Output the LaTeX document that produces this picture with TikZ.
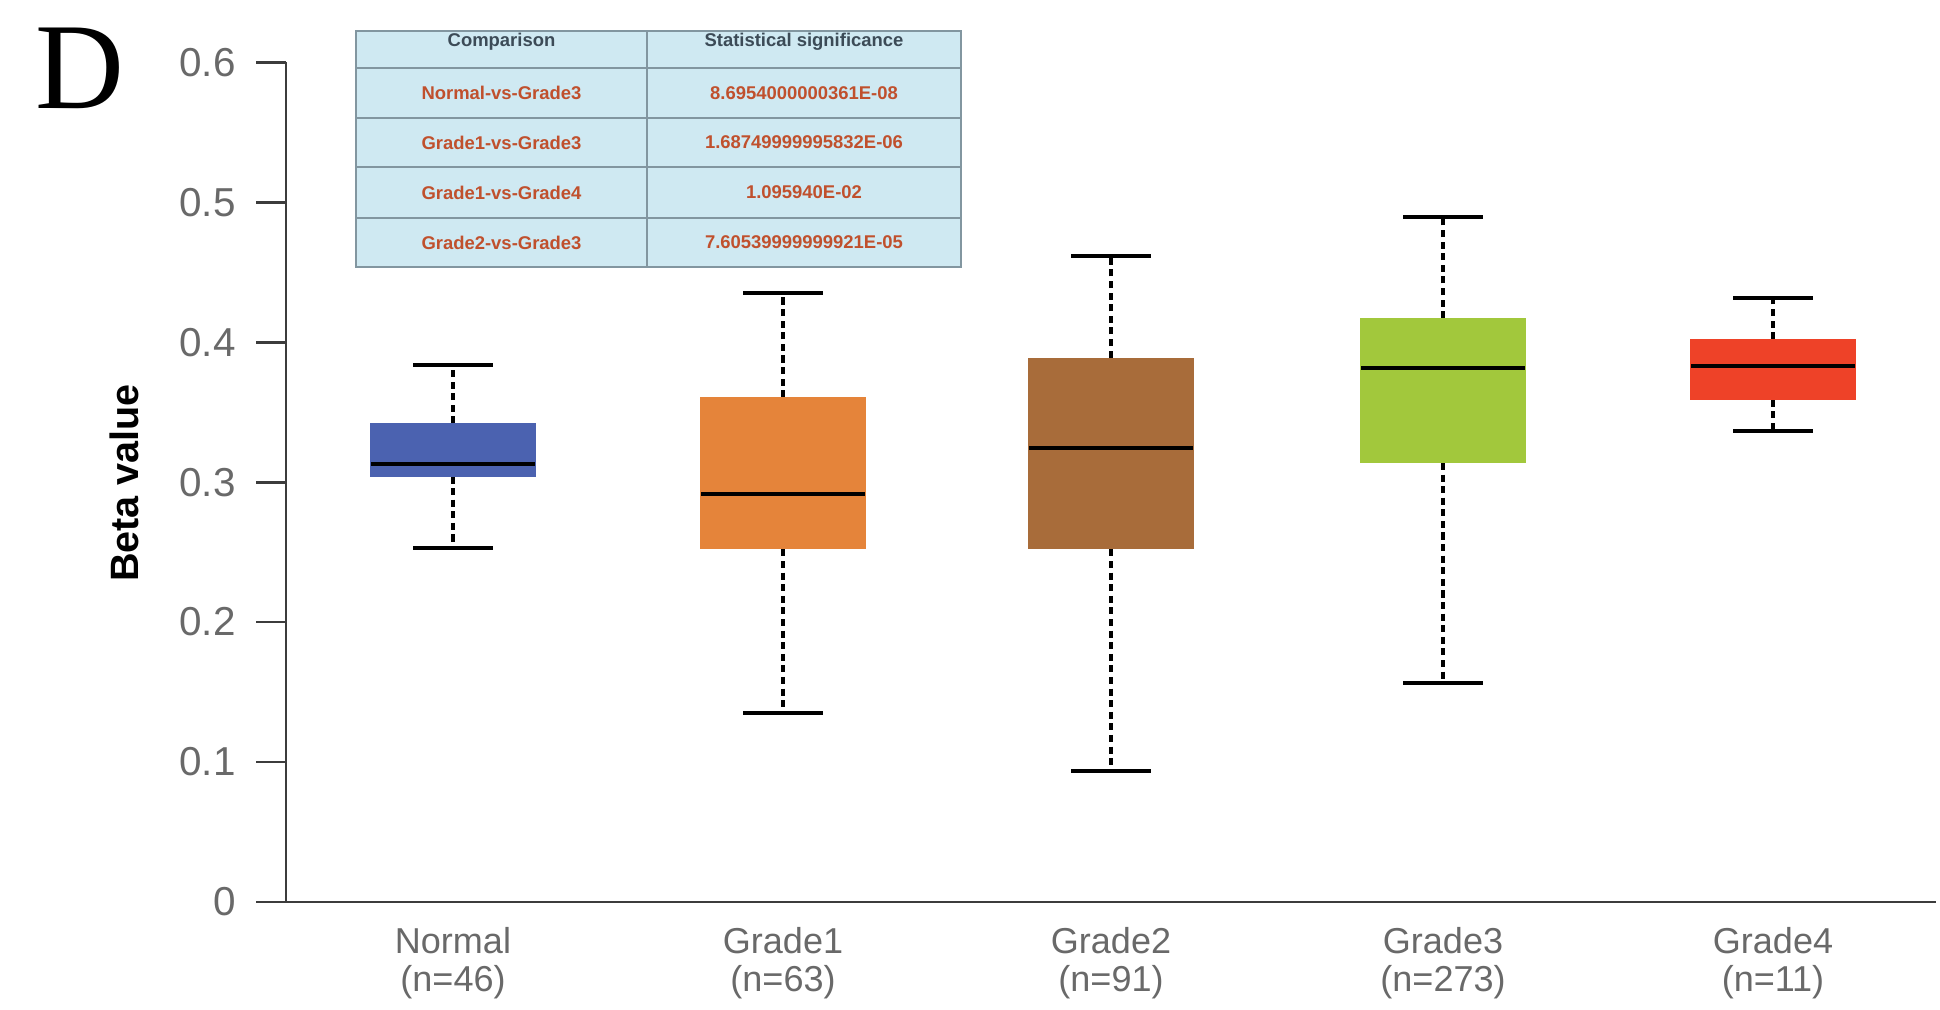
\documentclass[tikz,border=0pt]{standalone}
\usepackage{fontspec}
\setmainfont{Liberation Sans}
\newfontfamily\panelfont{Liberation Serif}

\definecolor{cNormal}{RGB}{75,98,176}
\definecolor{cGradeA}{RGB}{229,132,58}
\definecolor{cGradeB}{RGB}{168,108,58}
\definecolor{cGradeC}{RGB}{162,200,60}
\definecolor{cGradeD}{RGB}{238,66,40}
\definecolor{axisgrey}{RGB}{60,60,60}
\definecolor{labelgrey}{RGB}{105,105,105}
\definecolor{tablefill}{RGB}{207,233,242}
\definecolor{tableline}{RGB}{130,150,160}
\definecolor{tablehead}{RGB}{60,75,87}
\definecolor{tablebody}{RGB}{192,80,45}

\tikzset{
  axisline/.style={draw=axisgrey, line width=1.6pt},
  whisk/.style={draw=black, line width=2pt, dash pattern=on 4pt off 2.6pt},
  capline/.style={draw=black, line width=2.2pt},
  medline/.style={draw=black, line width=2.2pt},
  ticklabel/.style={anchor=east, text=labelgrey, inner sep=0pt,
    font=\fontsize{23}{23}\selectfont},
  xlab/.style={align=center, text=labelgrey, inner sep=0pt,
    font=\fontsize{20.5}{21.5}\selectfont},
  ylab/.style={rotate=90, inner sep=0pt, font=\fontsize{22.5}{22.5}\selectfont\bfseries},
  tabgrid/.style={draw=tableline, line width=1.1pt},
  tabhead/.style={text=tablehead, inner sep=0pt, font=\fontsize{10.5}{10.5}\selectfont\bfseries},
  tabcell/.style={text=tablebody, inner sep=0pt, font=\fontsize{10.5}{10.5}\selectfont\bfseries},
}

\begin{document}
\begin{tikzpicture}[x=0.02cm, y=0.02cm]
\useasboundingbox (0,0) rectangle (1940,1009);

% panel letter
\node[inner sep=0pt, font=\panelfont\fontsize{70}{70}\selectfont] (panel) at (80,941) {D};

% box plots, drawn in data units (y = 0 at the x axis, 0.1 per 140 px)
\begin{scope}[yshift=2.14cm, y=28cm]
  % axes
  \coordinate (origin) at (286,0);
  \coordinate (ytop) at (286,0.6);
  \coordinate (xend) at (1936,0);
  \coordinate (xstart) at (256,0);
  \draw[axisline] (ytop) -- (origin);
  \draw[axisline] (xstart) -- (xend);
  \foreach \v/\nm in {0/t0,0.1/t1,0.2/t2,0.3/t3,0.4/t4,0.5/t5,0.6/t6} {
    \coordinate (\nm a) at (256,\v);
    \coordinate (\nm b) at (286,\v);
    \draw[axisline] (\nm a) -- (\nm b);
    \node[ticklabel] (\nm lab) at (236,\v) {\v};
  }
  % boxes: name / centre / colour / min / q1 / median / q3 / max
  \foreach \n/\c/\col/\lo/\qa/\me/\qb/\hi in {
      normal/453/cNormal/0.2528/0.3040/0.3129/0.3420/0.3836,
      gA/783/cGradeA/0.1352/0.2519/0.2916/0.3606/0.4348,
      gB/1111/cGradeB/0.0937/0.2519/0.3243/0.3889/0.4613,
      gC/1443/cGradeC/0.1564/0.3137/0.3818/0.4171/0.4896,
      gD/1773/cGradeD/0.3367/0.3588/0.3827/0.4021/0.4313} {
    \coordinate (\n hi) at (\c,\hi);
    \coordinate (\n lo) at (\c,\lo);
    \coordinate (\n qa) at (\c,\qa);
    \coordinate (\n qb) at (\c,\qb);
    \draw[whisk] (\n qb) -- (\n hi);
    \draw[whisk] (\n qa) -- (\n lo);
    \draw[capline] (\c-40,\hi) -- (\c+40,\hi);
    \draw[capline] (\c-40,\lo) -- (\c+40,\lo);
    \fill[\col] (\c-83,\qa) rectangle (\c+83,\qb);
    \draw[medline] (\c-82,\me) -- (\c+82,\me);
  }
\end{scope}

% axis title
\node[ylab] (ytitle) at (124,526) {Beta value};

% group labels
\node[xlab] (lnormal) at (453,46) {Normal\\(n=46)};
\node[xlab] (lgA) at (783,46) {Grade1\\(n=63)};
\node[xlab] (lgB) at (1111,46) {Grade2\\(n=91)};
\node[xlab] (lgC) at (1443,46) {Grade3\\(n=273)};
\node[xlab] (lgD) at (1773,46) {Grade4\\(n=11)};

% table of comparisons
\fill[tablefill] (356,742) rectangle (961,978);
\draw[tabgrid] (356,742) rectangle (961,978);
\draw[tabgrid] (647,742) -- (647,978);
\foreach \yy in {941,891,842,791} {
  \draw[tabgrid] (356,\yy) -- (961,\yy);
}
\node[tabhead] (h1) at (501.5,967) {Comparison};
\node[tabhead] (h2) at (804,967) {Statistical significance};
\node[tabcell] (r1a) at (501.5,916) {Normal-vs-Grade3};
\node[tabcell] (r1b) at (804,916) {8.6954000000361E-08};
\node[tabcell] (r2a) at (501.5,866.5) {Grade1-vs-Grade3};
\node[tabcell] (r2b) at (804,866.5) {1.68749999995832E-06};
\node[tabcell] (r3a) at (501.5,816.5) {Grade1-vs-Grade4};
\node[tabcell] (r3b) at (804,816.5) {1.095940E-02};
\node[tabcell] (r4a) at (501.5,766.5) {Grade2-vs-Grade3};
\node[tabcell] (r4b) at (804,766.5) {7.60539999999921E-05};
\end{tikzpicture}
\end{document}
